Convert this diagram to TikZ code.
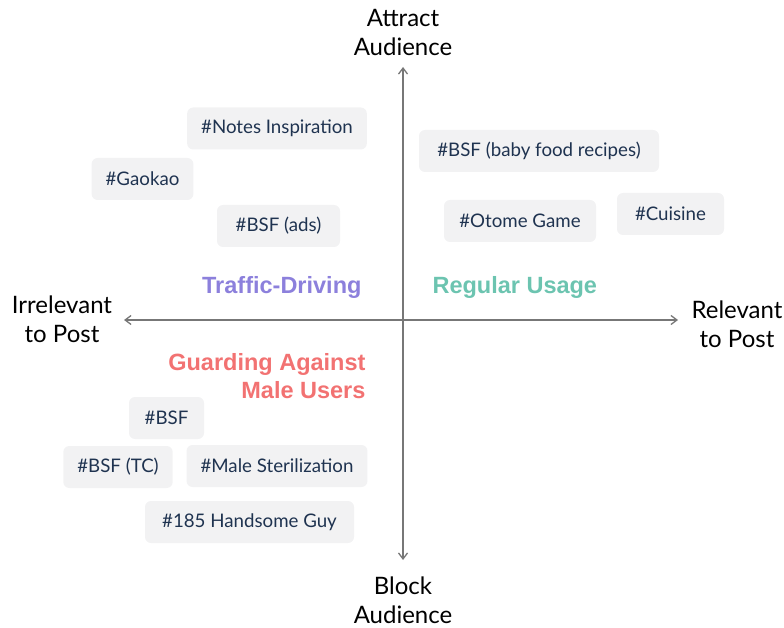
\documentclass[tikz,border=0pt]{standalone}
\usepackage{fontspec}
\setmainfont{Lato}
\newfontfamily\boldlab{Liberation Sans}
\usetikzlibrary{arrows.meta}
\definecolor{tagfill}{HTML}{F2F2F3}
\definecolor{tagtext}{HTML}{1F3350}
\definecolor{axisgray}{HTML}{777777}
\definecolor{purp}{HTML}{8C80DC}
\definecolor{teal}{HTML}{6CC4B0}
\definecolor{salmon}{HTML}{F27272}
\begin{document}
\begin{tikzpicture}[x=1pt,y=-1pt,
  tag/.style={fill=tagfill, rounded corners=6pt, text=tagtext, font=\fontsize{18.7}{20}\selectfont,
    inner xsep=14pt, minimum height=42pt, inner ysep=0pt},
  axlab/.style={align=center, font=\fontsize{24}{29}\selectfont, text=black},
  cat/.style={font=\boldlab\bfseries\fontsize{23.5}{28}\selectfont},
  axis/.style={draw=axisgray, line width=1.3pt, -{Straight Barb[length=6pt,width=9pt]}}]
\useasboundingbox (0,0) rectangle (784,628);
\coordinate (o) at (403,320);
\coordinate (top) at (403,67);
\coordinate (bot) at (403,560);
\coordinate (lft) at (124,320);
\coordinate (rgt) at (678,320);
\draw[axis] (o) -- (top);
\draw[axis] (o) -- (bot);
\draw[axis] (o) -- (lft);
\draw[axis] (o) -- (rgt);
\node[axlab] (attract) at (403,33) {Attract\\Audience};
\node[axlab] (block) at (403,600) {Block\\Audience};
\node[axlab] (irr) at (62,319) {Irrelevant\\to Post};
\node[axlab] (rel) at (737,324) {Relevant\\to Post};
\node[tag, minimum width=178pt] (notes) at (277,128.5) {\#Notes Inspiration};
\node[tag, minimum width=101pt] (gaokao) at (142.5,179) {\#Gaokao};
\node[tag, minimum width=123pt] (bsfads) at (278.5,226) {\#BSF (ads)};
\node[tag, minimum width=240pt] (baby) at (539,151) {\#BSF (baby food recipes)};
\node[tag, minimum width=152pt] (otome) at (520,221) {\#Otome Game};
\node[tag, minimum width=107pt] (cuisine) at (670.5,214) {\#Cuisine};
\node[tag, minimum width=75pt] (bsf) at (166.5,418) {\#BSF};
\node[tag, minimum width=108pt] (bsftc) at (118,467) {\#BSF (TC)};
\node[tag, minimum width=180pt] (male) at (277,466) {\#Male Sterilization};
\node[tag, minimum width=209pt] (hand) at (249.5,522) {\#185 Handsome Guy};
\node[cat, text=purp, anchor=east] (traffic) at (365,287) {Traffic-Driving};
\node[cat, text=teal, anchor=west] (regular) at (429,287) {Regular Usage};
\node[cat, text=salmon, anchor=east, align=right] (guard) at (369,376) {Guarding Against\\Male Users};
\end{tikzpicture}
\end{document}
